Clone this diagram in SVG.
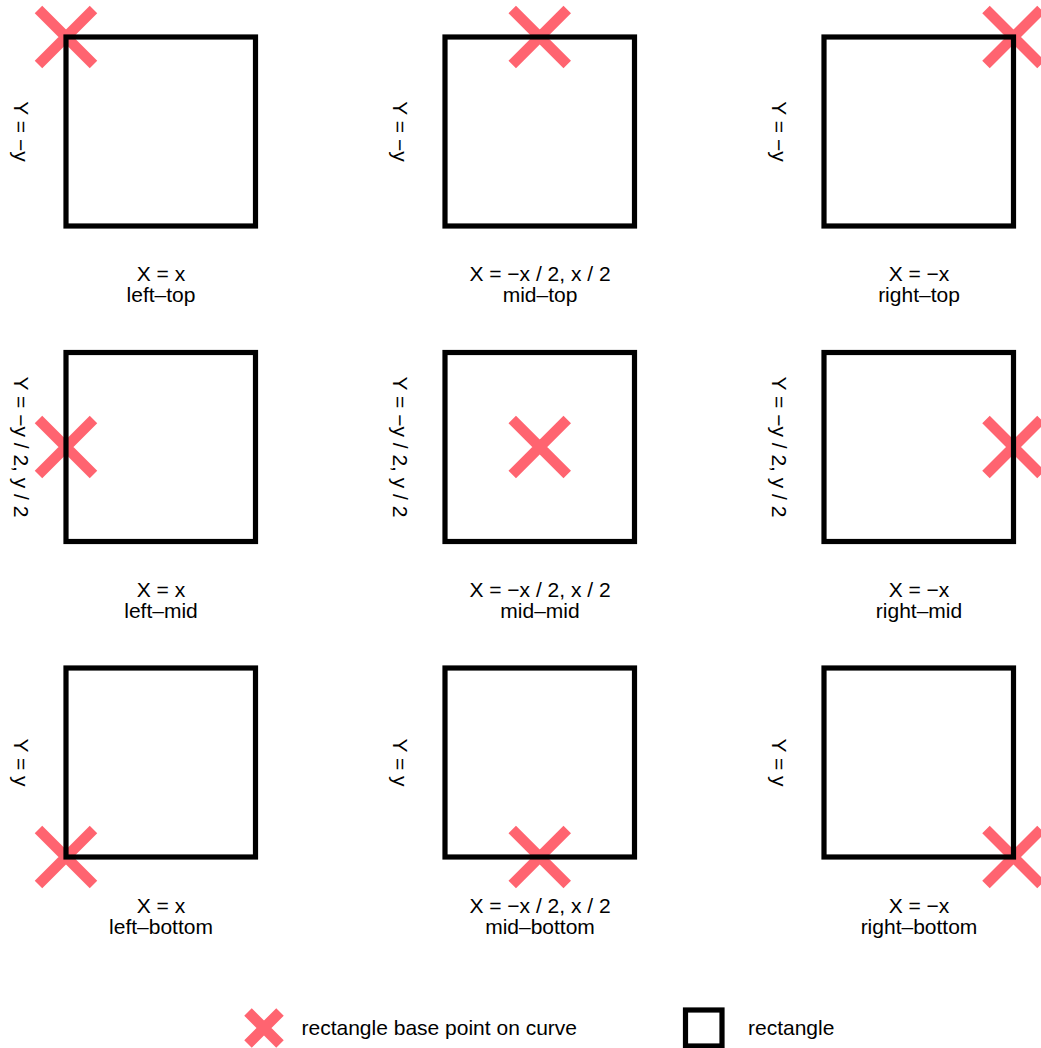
<svg xmlns="http://www.w3.org/2000/svg" width="1041" height="1048" viewBox="0 0 1041 1048">
<defs>
<style>
.cross{stroke:#ff6470;stroke-width:10.6;stroke-linecap:butt;fill:none}
.box{stroke:#000;stroke-width:5.2;fill:none}
.lbl{font-family:"Liberation Sans",Arial,sans-serif;font-size:21px;fill:#000}
.mid{text-anchor:middle}
</style>
<path id="x" class="cross" d="M-27.5,-27.5L27.5,27.5M-27.5,27.5L27.5,-27.5"/>
<path id="xs" class="cross" d="M-16,-16L16,16M-16,16L16,-16"/>
</defs>
<rect width="1041" height="1048" fill="#fff"/>
<g id="left-top">
<use href="#x" x="66" y="37"/>
<rect class="box" x="66" y="37" width="189.5" height="189"/>
<text class="lbl mid" transform="translate(13.5,131.5) rotate(90)">Y = −y</text>
<text class="lbl mid" x="161" y="281">X = x</text>
<text class="lbl mid" x="161" y="302">left–top</text>
</g>
<g id="mid-top">
<use href="#x" x="539.75" y="37"/>
<rect class="box" x="445" y="37" width="189.5" height="189"/>
<text class="lbl mid" transform="translate(392.5,131.5) rotate(90)">Y = −y</text>
<text class="lbl mid" x="540" y="281">X = −x / 2, x / 2</text>
<text class="lbl mid" x="540" y="302">mid–top</text>
</g>
<g id="right-top">
<use href="#x" x="1013.5" y="37"/>
<rect class="box" x="824" y="37" width="189.5" height="189"/>
<text class="lbl mid" transform="translate(771.5,131.5) rotate(90)">Y = −y</text>
<text class="lbl mid" x="919" y="281">X = −x</text>
<text class="lbl mid" x="919" y="302">right–top</text>
</g>
<g id="left-mid">
<use href="#x" x="66" y="447"/>
<rect class="box" x="66" y="352.5" width="189.5" height="189"/>
<text class="lbl mid" transform="translate(13.5,447) rotate(90)">Y = −y / 2, y / 2</text>
<text class="lbl mid" x="161" y="597">X = x</text>
<text class="lbl mid" x="161" y="618">left–mid</text>
</g>
<g id="mid-mid">
<use href="#x" x="539.75" y="447"/>
<rect class="box" x="445" y="352.5" width="189.5" height="189"/>
<text class="lbl mid" transform="translate(392.5,447) rotate(90)">Y = −y / 2, y / 2</text>
<text class="lbl mid" x="540" y="597">X = −x / 2, x / 2</text>
<text class="lbl mid" x="540" y="618">mid–mid</text>
</g>
<g id="right-mid">
<use href="#x" x="1013.5" y="447"/>
<rect class="box" x="824" y="352.5" width="189.5" height="189"/>
<text class="lbl mid" transform="translate(771.5,447) rotate(90)">Y = −y / 2, y / 2</text>
<text class="lbl mid" x="919" y="597">X = −x</text>
<text class="lbl mid" x="919" y="618">right–mid</text>
</g>
<g id="left-bottom">
<use href="#x" x="66" y="857"/>
<rect class="box" x="66" y="668" width="189.5" height="189"/>
<text class="lbl mid" transform="translate(13.5,762.5) rotate(90)">Y = y</text>
<text class="lbl mid" x="161" y="913">X = x</text>
<text class="lbl mid" x="161" y="934">left–bottom</text>
</g>
<g id="mid-bottom">
<use href="#x" x="539.75" y="857"/>
<rect class="box" x="445" y="668" width="189.5" height="189"/>
<text class="lbl mid" transform="translate(392.5,762.5) rotate(90)">Y = y</text>
<text class="lbl mid" x="540" y="913">X = −x / 2, x / 2</text>
<text class="lbl mid" x="540" y="934">mid–bottom</text>
</g>
<g id="right-bottom">
<use href="#x" x="1013.5" y="857"/>
<rect class="box" x="824" y="668" width="189.5" height="189"/>
<text class="lbl mid" transform="translate(771.5,762.5) rotate(90)">Y = y</text>
<text class="lbl mid" x="919" y="913">X = −x</text>
<text class="lbl mid" x="919" y="934">right–bottom</text>
</g>
<g id="legend">
<use href="#xs" x="264" y="1028"/>
<text class="lbl" x="301.5" y="1035">rectangle base point on curve</text>
<rect class="box" x="685.5" y="1010" width="36.5" height="36"/>
<text class="lbl" x="748" y="1035">rectangle</text>
</g>
</svg>
